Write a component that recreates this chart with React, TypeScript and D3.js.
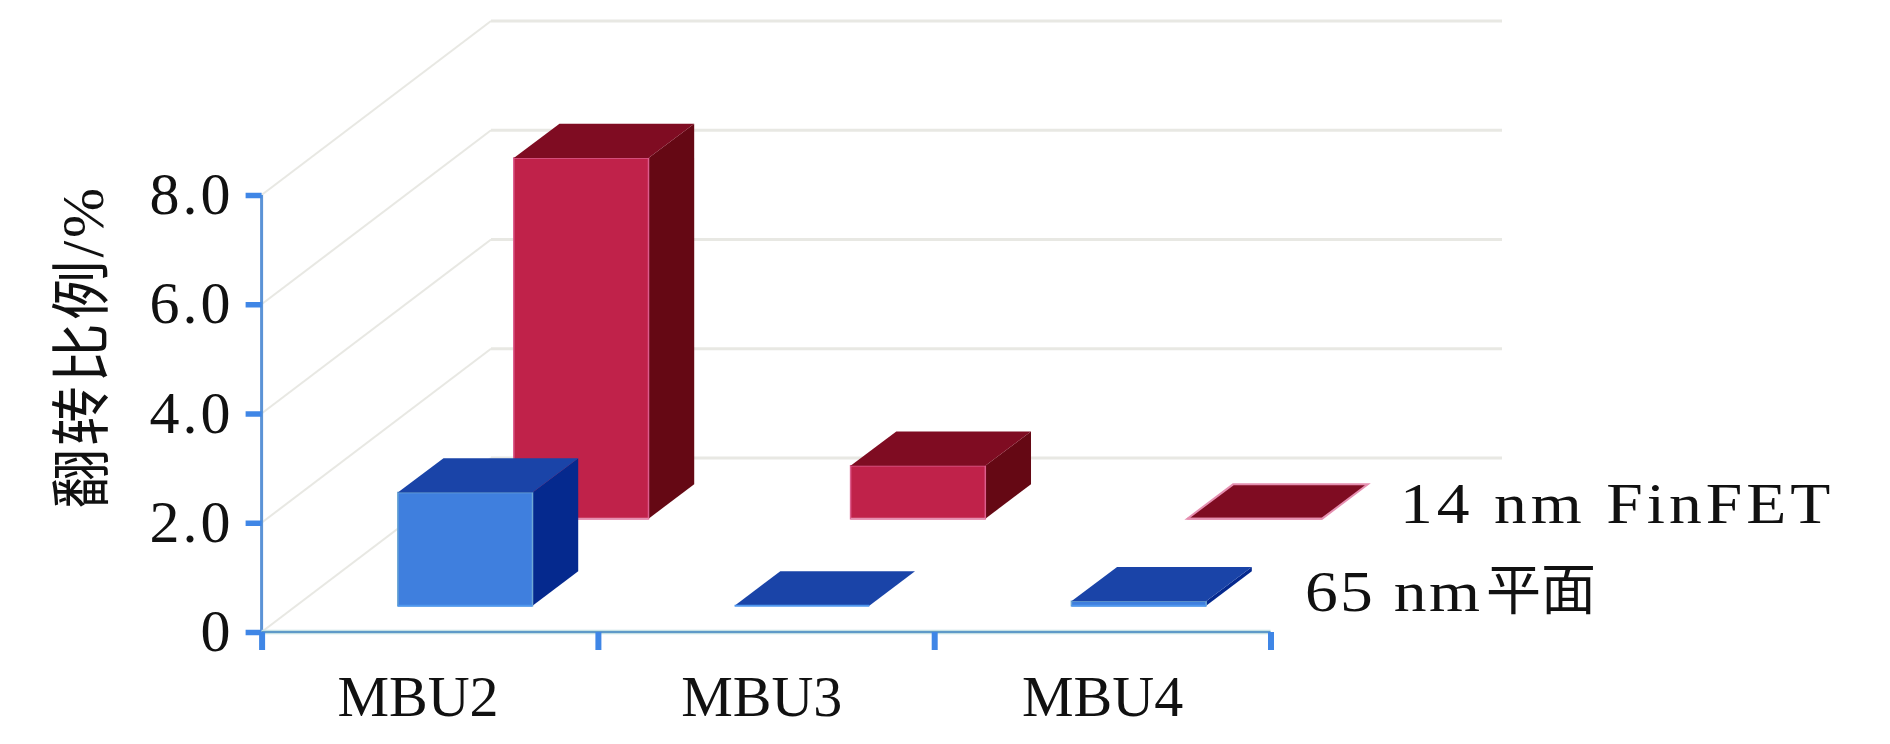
import React, { useEffect, useRef } from "react";
import * as d3 from "d3";

const categories = ["MBU2", "MBU3", "MBU4"];
const seriesNames = ["65 nm", "14 nm"];
const values65 = [2.07, 0, 0.08];
const values14 = [6.6, 0.97, 0];
const yTicks = [0, 2, 4, 6, 8];

const width = 1890;
const height = 744;
const serif = "'Liberation Serif', 'Noto Sans CJK SC', serif";

// how far the back wall sits from the front axis
const depthX = 229.4;
const depthY = 174;
// bars drift a little further right than the walls do
const barDepthX = 232;

const blue = { front: "#3f7fde", top: "#1a44a8", side: "#05298e", edge: "#4f97ee", outline: "#6fa8d4" };
const red = { front: "#c0224a", top: "#7f0c22", side: "#650814", edge: "#e58fb0", outline: "#dc5c8c" };

export default function App() {
    const ref = useRef<SVGSVGElement>(null);

    useEffect(() => {
        const svg = d3.select(ref.current);
        svg.selectAll("*").remove();

        const x = d3.scaleBand<string>().domain(categories).range([261.6, 1272]).paddingInner(0.6).paddingOuter(0.3);
        const xEdge = d3.scaleLinear().domain([0, categories.length]).range([261.6, 1270.5]);
        const y = d3.scaleLinear().domain([0, 8]).range([632, 195]);
        const z = d3.scaleBand<string>().domain(seriesNames).range([0, 1]).paddingInner(0.606).paddingOuter(0.303);

        const px = (vx: number, vz: number) => vx + vz * barDepthX;
        const py = (v: number, vz: number) => y(v) - vz * depthY;
        const line = d3.line();

        // walls
        const grid = svg.append("g").attr("fill", "none").attr("stroke", "#e8e8e3").attr("stroke-width", 3);
        yTicks.forEach((t) => {
            const backX = xEdge(0) + depthX;
            grid.append("path")
                .attr("stroke-width", 2)
                .attr("d", line([[xEdge(0), py(t, 0)], [backX, py(t, 1)]]));
            grid.append("path")
                .attr("d", line([[backX, py(t, 1)], [1502, py(t, 1)]]));
        });

        const drawBar = (cat: string, name: string, v: number, c: typeof blue) => {
            const x0 = x(cat)!;
            const x1 = x0 + x.bandwidth();
            const z0 = z(name)!;
            const z1 = z0 + z.bandwidth();
            const g = svg.append("g");
            if (v > 0) {
                g.append("path").attr("fill", c.side)
                    .attr("d", line([[px(x1, z0), py(0, z0)], [px(x1, z1), py(0, z1)], [px(x1, z1), py(v, z1)], [px(x1, z0), py(v, z0)]]) + "Z");
                g.append("path").attr("fill", c.front).attr("stroke", c.outline).attr("stroke-width", 1.5)
                    .attr("d", line([[px(x0, z0), py(0, z0)], [px(x1, z0), py(0, z0)], [px(x1, z0), py(v, z0)], [px(x0, z0), py(v, z0)]]) + "Z");
            }
            g.append("path").attr("fill", c.top)
                .attr("stroke", v === 0 && name === "14 nm" ? c.edge : "none").attr("stroke-width", 2)
                .attr("d", line([[px(x0, z0), py(v, z0)], [px(x1, z0), py(v, z0)], [px(x1, z1), py(v, z1)], [px(x0, z1), py(v, z1)]]) + "Z");
            g.append("path").attr("stroke", c.edge).attr("stroke-width", 2).attr("fill", "none")
                .attr("d", line([[px(x0, z0), py(0, z0)], [px(x1, z0), py(0, z0)]]));
        };

        // back row first so the blue bars cover the red ones
        categories.forEach((cat, i) => drawBar(cat, "14 nm", values14[i], red));
        categories.forEach((cat, i) => drawBar(cat, "65 nm", values65[i], blue));

        // y axis
        const yAxis = svg.append("g")
            .attr("transform", `translate(${xEdge(0)},0)`)
            .call(d3.axisLeft(y).tickValues(yTicks).tickSize(16).tickPadding(12)
                .tickFormat((d) => (+d === 0 ? "0" : (+d).toFixed(1))));
        yAxis.select(".domain").attr("stroke", "#5b93d6").attr("stroke-width", 3).attr("d", line([[0, y(8)], [0, y(0)]]));
        yAxis.selectAll(".tick line").attr("stroke", "#3f86e6").attr("stroke-width", 5.5);
        yAxis.selectAll("text")
            .attr("font-family", serif).attr("font-size", 60).attr("fill", "#111")
            .attr("letter-spacing", 3).attr("dy", 18.5);

        // x axis
        svg.append("path").attr("stroke", "#c4e0e4").attr("stroke-width", 4.5)
            .attr("d", line([[xEdge(0), y(0)], [xEdge(categories.length), y(0)]]));
        const xAxis = svg.append("g")
            .attr("transform", `translate(0,${y(0)})`)
            .call(d3.axisBottom(xEdge).tickValues(d3.range(categories.length + 1)).tickSize(18).tickFormat(() => ""));
        xAxis.select(".domain").attr("stroke", "#5f9ac8").attr("stroke-width", 2).attr("d", line([[xEdge(0), 0], [xEdge(categories.length), 0]]));
        xAxis.selectAll(".tick line").attr("stroke", "#3f86e6").attr("stroke-width", 6);

        const xLabels = svg.append("g")
            .attr("transform", `translate(0,${y(0)})`)
            .call(d3.axisBottom(x).tickSize(0).tickPadding(0));
        xLabels.select(".domain").remove();
        xLabels.selectAll("text")
            .attr("font-family", serif).attr("font-size", 58).attr("fill", "#111")
            .attr("dy", 0).attr("y", 84).attr("dx", (_d, i) => (i === 0 ? -12 : i === 1 ? -5 : -1));

        // series labels beside the last bars, stretched like the source figure
        svg.append("text").attr("transform", "translate(1400,523) scale(1.15,1)").text("14 nm FinFET")
            .attr("font-family", serif).attr("font-size", 57).attr("fill", "#111").attr("letter-spacing", 3.5);
        svg.append("text").attr("transform", "translate(1305,611) scale(1.15,1)").text("65 nm")
            .attr("font-family", serif).attr("font-size", 57).attr("fill", "#111").attr("letter-spacing", 2);
        svg.append("text").attr("x", 1486).attr("y", 609).text("平面")
            .attr("font-family", serif).attr("font-size", 55).attr("fill", "#111");

        svg.append("text")
            .attr("transform", "translate(103,347) rotate(-90)")
            .attr("text-anchor", "middle")
            .attr("font-family", serif).attr("font-size", 60).attr("fill", "#111").attr("letter-spacing", 2.8)
            .text("翻转比例/%");
    }, []);

    return (
        <svg ref={ref} width={width} height={height} style={{ position: "absolute", left: 0, top: 0, background: "#fff" }}></svg>
    );
}
